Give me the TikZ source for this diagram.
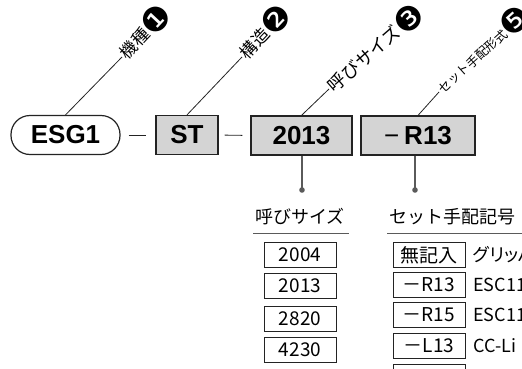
\documentclass[tikz,border=0pt]{standalone}
\usepackage{fontspec}
\setmainfont{Liberation Sans}
\newfontfamily\jp[RawFeature=+palt]{Noto Sans CJK JP}
\newfontfamily\jpt{Noto Sans CJK JP}
\newfontfamily\dg{DejaVu Sans}
\newcommand{\cnum}[1]{\smash{\raisebox{-4.5pt}{\fontsize{33}{33}\selectfont\dg #1}}}
\usetikzlibrary{calc}
\definecolor{gc}{RGB}{212,212,212}
\definecolor{ln}{RGB}{35,35,35}
\definecolor{pc}{RGB}{90,90,90}
\tikzset{code/.style={draw=ln,fill=gc,line width=1.2pt,minimum height=39pt,inner sep=0pt,font=\fontsize{26}{26}\selectfont\bfseries},
 capsule/.style={code,fill=white,rounded corners=19pt},
 tag/.style={rotate=47,anchor=west,inner sep=1.5pt,font=\fontsize{17}{17}\selectfont\jpt},
 lead/.style={draw=ln,line width=.8pt},
 pin/.style={draw=pc,line width=1.2pt},
 cell/.style={draw=ln,fill=white,line width=.9pt,minimum width=72pt,minimum height=25pt,inner sep=0pt,font=\fontsize{19}{19}\selectfont\jpt},
 hd/.style={inner sep=0pt,font=\fontsize{18}{18}\selectfont\jpt},
 txt/.style={anchor=west,inner sep=0pt,font=\fontsize{18}{18}\selectfont\jp},
 rule/.style={draw=pc,line width=.9pt}}
\begin{document}
\begin{tikzpicture}[x=1pt,y=-1pt]
\useasboundingbox (0,0) rectangle (522,369);
\clip (0,0) rectangle (522,369);
\node[capsule,minimum width=109pt] (esg) at (65.5,135) {ESG1};
\node[code,minimum width=62pt] (st) at (187,135) {ST};
\node[code,minimum width=101pt] (size) at (301.5,135.5) {2013};
\node[code,minimum width=114pt] (set) at (418,135.5) {{\mdseries −}\hspace{5pt}R13};
\draw[lead,shorten <=8pt,shorten >=9pt] (esg.east) -- (st.west);
\draw[lead,shorten <=6pt,shorten >=8pt] (st.east) -- (size.west);
\node[tag] (tmod) at (122,57) {機種\cnum{❶}};
\node[tag] (tstr) at (242,57) {構造\cnum{❷}};
\node[tag,rotate=-6,font=\fontsize{18}{18}\selectfont\jpt] (tsize) at (329,89) {呼びサイズ\cnum{❸}};
\node[tag,rotate=-5,font=\fontsize{12.5}{12.5}\selectfont\jpt] (tset) at (439,92) {セット手配形式\cnum{❺}};
\draw[lead] (esg.north) -- (tmod.west);\draw[lead] (st.north) -- (tstr.west);
\draw[lead] (size.north) -- (tsize.west);\draw[lead] (set.north) -- (tset.west);
\coordinate (p1) at (302,190);\coordinate (p2) at (415,190);
\draw[pin] (p1 |- size.south) -- (p1);\fill[pc] (p1) circle (2.8pt);
\draw[pin] (p2 |- set.south) -- (p2);\fill[pc] (p2) circle (2.8pt);
\node[hd] (hsize) at (300,217) {呼びサイズ};
\node[hd,anchor=west] (hset) at (389,217) {セット手配記号};
\draw[rule] (253,233.5) -- (349,233.5);\draw[rule] (387,233.5) -- (522,233.5);
\foreach \v/\y in {2004/254.5,2013/286,2820/318.5,4230/350}
 \node[cell] (s\v) at (300,\y) {\v};
\foreach \c/\t/\y [count=\i] in {無記入/グリッパ/255,－R13/ESC11/285,－R15/ESC11/314.5,－L13/CC-Li/346}{
 \node[cell] (c\i) at (429,\y) {\c};
 \node[txt] (d\i) at (473,\y) {\t};}
\node[cell] (c5) at (429,377) {};
\end{tikzpicture}
\end{document}
